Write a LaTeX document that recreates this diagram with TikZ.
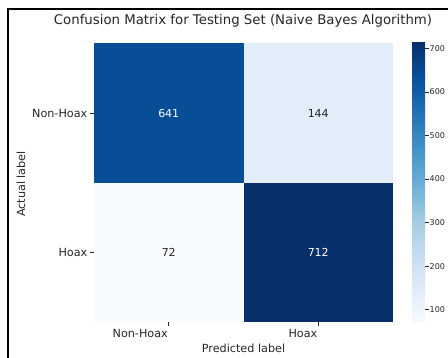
\documentclass[tikz,border=0pt]{standalone}
\usepackage{fontspec}
\setmainfont{DejaVu Sans}
\definecolor{txt}{RGB}{38,38,38}
\definecolor{cA}{RGB}{8,78,150}
\definecolor{cB}{RGB}{225,237,248}
\definecolor{cC}{RGB}{247,251,255}
\definecolor{cD}{RGB}{8,48,107}
\definecolor{b0}{RGB}{247,251,255}
\definecolor{b1}{RGB}{222,235,247}
\definecolor{b2}{RGB}{198,219,239}
\definecolor{b3}{RGB}{158,202,225}
\definecolor{b4}{RGB}{107,174,214}
\definecolor{b5}{RGB}{66,146,198}
\definecolor{b6}{RGB}{33,113,181}
\definecolor{b7}{RGB}{8,81,156}
\definecolor{b8}{RGB}{8,48,107}
\begin{document}
\begin{tikzpicture}[x=1pt,y=-1pt,
  lbl/.style={font=\fontsize{11.2}{13}\selectfont, text=txt, inner sep=0pt},
  num/.style={font=\fontsize{11}{13}\selectfont, inner sep=0pt},
  cbl/.style={font=\fontsize{8}{10}\selectfont, text=txt, inner sep=0pt, anchor=west},
  tickmark/.style={draw=txt, line width=0.6pt}]
\useasboundingbox (0,0) rectangle (448,358);
\fill[white] (0,0) rectangle (448,358);
\draw[line width=2pt, black] (8,358) -- (8,9) -- (448,9);
% title
\node[font=\fontsize{13.3}{15}\selectfont, text=txt, inner sep=0pt] (title) at (243,21) {Confusion Matrix for Testing Set (Naive Bayes Algorithm)};
% cells
\fill[cA] (94,43) rectangle (243.5,183);
\fill[cB] (243.5,43) rectangle (393,183);
\fill[cC] (94,183) rectangle (243.5,322);
\fill[cD] (243.5,183) rectangle (393,322);
\node[num, text=white] (n11) at (168.75,113) {641};
\node[num, text=txt] (n12) at (318.25,113) {144};
\node[num, text=txt] (n21) at (168.75,252.5) {72};
\node[num, text=white] (n22) at (318.25,252.5) {712};
% y ticks
\coordinate (ty1) at (89.5,113);
\coordinate (ty2) at (89.5,252.5);
\draw[tickmark] (ty1) -- ++(4.5,0);
\draw[tickmark] (ty2) -- ++(4.5,0);
\node[lbl, anchor=east] (yl1) at (87.5,113) {Non-Hoax};
\node[lbl, anchor=east] (yl2) at (87.5,252.5) {Hoax};
\node[lbl, rotate=90] (ylab) at (21,184) {Actual label};
% x ticks
\coordinate (tx1) at (168.75,322);
\coordinate (tx2) at (318.25,322);
\draw[tickmark] (tx1) -- ++(0,4.5);
\draw[tickmark] (tx2) -- ++(0,4.5);
\node[lbl, anchor=east] (xl1) at (168,333) {Non-Hoax};
\node[lbl, anchor=east] (xl2) at (317.5,333) {Hoax};
\node[lbl] (xlab) at (243.5,348) {Predicted label};
% colorbar
\foreach \i [evaluate=\i as \j using int(\i+1)] in {0,...,7}{
  \shade[bottom color=b\i, top color=b\j] (412,{322-\i*34.875+0.2}) rectangle (425,{322-(\i+1)*34.875-0.2});
}
\foreach \v in {100,200,...,700}{
  \pgfmathsetmacro{\yy}{322-(\v-72)/640*279}
  \draw[tickmark] (425,\yy) -- (428.5,\yy);
  \node[cbl] at (429.5,\yy) {\v};
}
\end{tikzpicture}
\end{document}
